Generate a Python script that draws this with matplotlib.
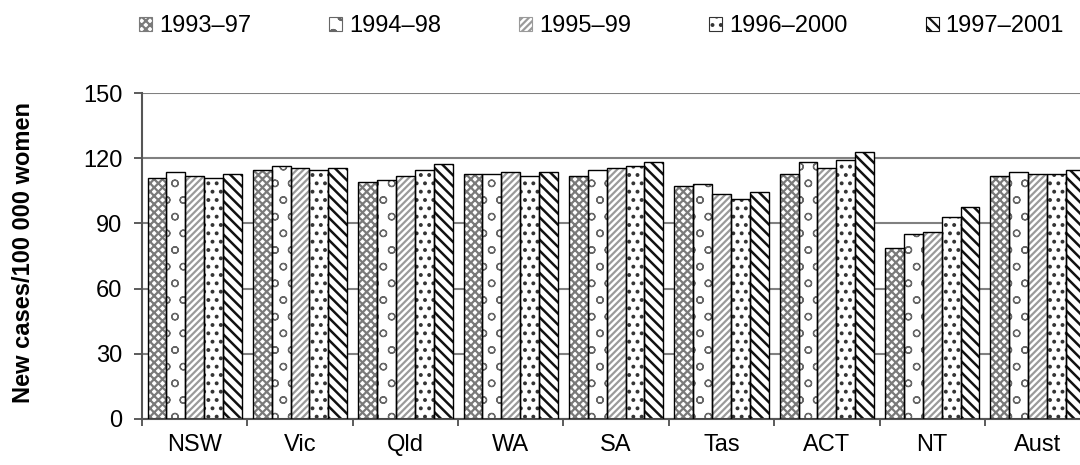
import numpy as np
import matplotlib
matplotlib.use("Agg")
import matplotlib.pyplot as plt
from matplotlib.patches import Rectangle

plt.rcParams["font.family"] = ["Liberation Sans", "DejaVu Sans"]
plt.rcParams["hatch.linewidth"] = 1.6

regions = ["NSW", "Vic", "Qld", "WA", "SA", "Tas", "ACT", "NT", "Aust"]
periods = ["1993\u201397", "1994\u201398", "1995\u201399", "1996\u20132000", "1997\u20132001"]

r_1993_97 = [110.7, 114.4, 108.9, 112.6, 111.6, 107.0, 112.6, 78.5, 111.6]
r_1994_98 = [113.5, 116.2, 109.8, 112.6, 114.4, 108.0, 118.1, 85.0, 113.5]
r_1995_99 = [111.7, 115.3, 111.6, 113.5, 115.3, 103.4, 115.3, 85.9, 112.6]
r_1996_00 = [110.7, 114.4, 114.4, 111.6, 116.2, 101.2, 119.0, 93.0, 112.6]
r_1997_01 = [112.6, 115.3, 117.2, 113.5, 118.1, 104.3, 122.7, 97.5, 114.4]

series = [r_1993_97, r_1994_98, r_1995_99, r_1996_00, r_1997_01]
# (hatch, hatch colour, hatch width) for each period
styles = [
    ("xxxx", "#7a7a7a", 1.6),
    ("o", "#666666", 0.9),
    ("/////", "#9a9a9a", 1.6),
    ("..", "#333333", 1.6),
    ("\\\\\\", "#111111", 1.8),
]

fig = plt.figure(figsize=(10.8, 4.65), dpi=100)
ax = fig.add_axes([0.1315, 0.099, 0.878, 0.701])

x = np.arange(len(regions))
w = 0.179
for i, vals in enumerate(series):
    hatch, hc, hw = styles[i]
    pos = x + (i - 2) * w
    with plt.rc_context({"hatch.linewidth": hw}):
        ax.bar(pos, vals, w, color="white", edgecolor=hc, hatch=hatch,
               linewidth=0, zorder=2)
    ax.bar(pos, vals, w, fill=False, edgecolor="black", linewidth=1.0, zorder=3)

ax.set_xlim(-0.5, len(regions) - 0.5)
ax.set_ylim(0, 150)
ax.set_yticks([0, 30, 60, 90, 120, 150])
ax.yaxis.grid(True, color="#808080", linewidth=1.5, zorder=0)
ax.set_axisbelow(True)

ax.set_xticks(np.arange(len(regions) + 1) - 0.5)
ax.set_xticklabels([])
ax.set_xticks(x, minor=True)
ax.set_xticklabels(regions, minor=True)
ax.tick_params(axis="x", which="minor", length=0, pad=11, labelsize=17)
ax.tick_params(axis="x", which="major", length=5, width=1.2, color="#404040")
ax.tick_params(axis="y", length=6, width=1.2, color="#404040", labelsize=17, pad=8)

for s in ["top", "right"]:
    ax.spines[s].set_visible(False)
for s in ["left", "bottom"]:
    ax.spines[s].set_color("#555555")
    ax.spines[s].set_linewidth(1.5)

ax.set_ylabel("New cases/100 000 women", fontsize=17, fontweight="bold")
ax.yaxis.set_label_coords(-0.113, 0.51)

handles = []
for hatch, hc, hw in styles:
    with plt.rc_context({"hatch.linewidth": hw}):
        handles.append(Rectangle((0, 0), 1, 1, facecolor="white", edgecolor=hc,
                                 hatch=hatch, linewidth=0.8))
leg = fig.legend(handles, periods, loc="center", bbox_to_anchor=(0.557, 0.944),
                 ncol=5, frameon=False, fontsize=17, handlelength=0.55,
                 handleheight=0.55, handletextpad=0.3, columnspacing=3.3)

fig.savefig("out.png", dpi=100)
